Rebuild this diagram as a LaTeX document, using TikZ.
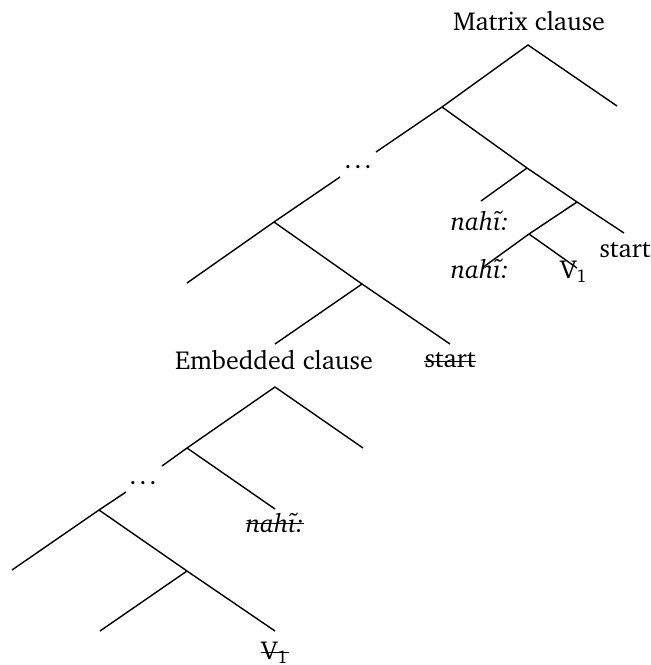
\documentclass[tikz,border=0pt]{standalone}
\usepackage[T1]{fontenc}
\usepackage{charter}
\begin{document}
\begin{tikzpicture}[x=0.5pt,y=-0.5pt,
  br/.style={line width=0.7pt},
  strk/.style={line width=0.5pt},
  lab/.style={anchor=base, inner sep=0pt, font=\fontsize{13}{15}\selectfont}]
\useasboundingbox (0,0) rectangle (651,665);
% ---------- matrix clause tree ----------
\coordinate (mtop) at (528,45);
\coordinate (mR) at (617,106);
\coordinate (A) at (442,107);
\coordinate (mdA) at (376,152);
\coordinate (mdB) at (340,177);
\coordinate (B) at (274,222);
\coordinate (bL) at (187,283);
\coordinate (C) at (362,284);
\coordinate (cR) at (450,344);
\coordinate (cL) at (275,344);
\coordinate (D) at (527,168);
\coordinate (E) at (577,202);
\coordinate (eR) at (624,233);
\coordinate (dL) at (481,201);
\coordinate (F) at (529,234);
\coordinate (fL) at (482,268);
\coordinate (fR) at (577,268);
\draw[br] (bL) -- (B) -- (mdB);
\draw[br] (mdA) -- (A) -- (mtop) -- (mR);
\draw[br] (A) -- (D) -- (E) -- (eR);
\draw[br] (D) -- (dL);
\draw[br] (E) -- (F) -- (fL);
\draw[br] (F) -- (fR);
\draw[br] (B) -- (C) -- (cR);
\draw[br] (C) -- (cL);
\node[lab] (mlab) at (529,30) {Matrix clause};
\node[lab] (mdots) at (358,168) {.\kern1.4pt.\kern1.4pt.};
\node[lab] (n1) at (480,230) {\textit{nah\~{\i}:}};
\node[lab] (n2) at (480,278) {\textit{nah\~{\i}:}};
\node[lab] (v1) at (574,278) {V\textsubscript{1}};
\node[lab] (s1) at (625,257) {start};
\node[lab] (elab) at (274,369) {Embedded clause};
\node[lab] (s2) at (450,367) {start};
\draw[strk] ([yshift=2.6pt]s2.base west) -- ([yshift=2.6pt]s2.base east);
% ---------- embedded clause tree ----------
\coordinate (etop) at (275,387);
\coordinate (eRt) at (363,448);
\coordinate (G) at (187,448);
\coordinate (gdA) at (162,466);
\coordinate (gdB) at (126,492);
\coordinate (H) at (99,510);
\coordinate (gR) at (275,509);
\coordinate (hL) at (12,570);
\coordinate (I) at (187,571);
\coordinate (iR) at (275,631);
\coordinate (iL) at (100,631);
\draw[br] (gdA) -- (G) -- (etop) -- (eRt);
\draw[br] (G) -- (gR);
\draw[br] (hL) -- (H) -- (gdB);
\draw[br] (H) -- (I) -- (iR);
\draw[br] (I) -- (iL);
\node[lab] (edots) at (143,484) {.\kern1.4pt.\kern1.4pt.};
\node[lab] (n3) at (275,532) {\textit{nah\~{\i}:}};
\draw[strk] ([yshift=4.2pt]n3.base west) -- ([yshift=4.2pt]n3.base east);
\node[lab] (v2) at (275,659) {V\textsubscript{1}};
\draw[strk] ([yshift=3.5pt]v2.base west) -- ([yshift=3.5pt]v2.base east);
\end{tikzpicture}
\end{document}
